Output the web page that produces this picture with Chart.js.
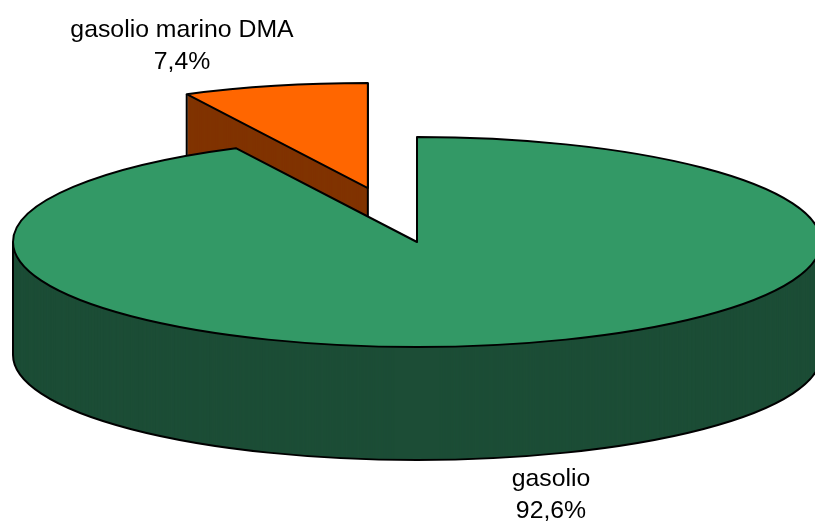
<!DOCTYPE html>
<html>
<head>
<meta charset="utf-8">
<title>gasolio</title>
<script src="https://cdn.jsdelivr.net/npm/chart.js@4/dist/chart.umd.js"></script>
<style>
  html, body { margin: 0; padding: 0; background: #fff; }
  #box { width: 815px; height: 524px; }
</style>
</head>
<body>
<div id="box"><canvas id="pie"></canvas></div>
<script>
const labels = ["gasolio", "gasolio marino DMA"];
const shares = [92.6, 7.4];
const topColors = ["#339966", "#FF6600"];
const wallColors = ["#1C4D36", "#803300"];

// tilted disc: the round pie is squashed into this ellipse and extruded down
const CENTER_X = 417, CENTER_Y = 242;
const RADIUS_X = 404, RADIUS_Y = 105;
const DEPTH = 113;
const EXPLODE = 0.53; // pulled out slice, as a fraction of the radius

const FONT = '24.8px "Liberation Sans", Arial, sans-serif';
const labelSpots = [
  { x: 551, y: 479 },
  { x: 182, y: 30 },
];

// where the slice centre ends up once squashed and pulled out
function sliceOrigin(arc) {
  const mid = (arc.startAngle + arc.endAngle) / 2;
  const pull = (arc.options.offset || 0) / 4 / arc.outerRadius;
  return {
    x: CENTER_X + Math.cos(mid) * pull * RADIUS_X,
    y: CENTER_Y + Math.sin(mid) * pull * RADIUS_Y,
  };
}

// traces one slice through the element's own angles, closed to the centre
function traceSlice(ctx, arc, drop) {
  const o = sliceOrigin(arc);
  ctx.beginPath();
  ctx.ellipse(o.x, o.y + drop, RADIUS_X, RADIUS_Y, 0, arc.startAngle, arc.endAngle);
  ctx.lineTo(o.x, o.y + drop);
  ctx.closePath();
}

// vertical edges of the wall: the rim's far left and right, plus cut face corners
function wallEdges(ctx, arc, index) {
  const o = sliceOrigin(arc);
  const angles = [];
  [Math.PI, 2 * Math.PI].forEach(function (a) {
    [a, a - 2 * Math.PI].forEach(function (t) {
      if (t >= arc.startAngle && t <= arc.endAngle) angles.push(t);
    });
  });
  if (index === 1) angles.push(arc.startAngle, arc.endAngle);
  ctx.beginPath();
  angles.forEach(function (t) {
    const x = o.x + Math.cos(t) * RADIUS_X;
    const y = o.y + Math.sin(t) * RADIUS_Y;
    ctx.moveTo(x, y);
    ctx.lineTo(x, y + DEPTH);
  });
  if (index === 1) {
    ctx.moveTo(o.x, o.y);
    ctx.lineTo(o.x, o.y + DEPTH);
  }
  ctx.stroke();
}

function drawSlice(ctx, arc, index) {
  const o = sliceOrigin(arc);

  // wall, stacked one pixel at a time
  ctx.fillStyle = wallColors[index];
  for (let d = DEPTH; d >= 0; d--) {
    traceSlice(ctx, arc, d);
    ctx.fill();
  }
  ctx.strokeStyle = "#000";
  ctx.lineWidth = 2;

  // only the big slice shows its lower rim, and only the front half of it
  if (index === 0) {
    ctx.beginPath();
    ctx.ellipse(o.x, o.y + DEPTH, RADIUS_X, RADIUS_Y, 0, 0, Math.PI);
    ctx.stroke();
  }
  wallEdges(ctx, arc, index);

  // top face
  traceSlice(ctx, arc, 0);
  ctx.fillStyle = topColors[index];
  ctx.fill();
  ctx.stroke();
}

const extrudedPie = {
  id: "extrudedPie",
  beforeDatasetsDraw(chart) {
    const ctx = chart.ctx;
    const arcs = chart.getDatasetMeta(0).data;
    ctx.save();
    ctx.lineJoin = "round";
    // the pulled out slice sits behind the big one
    drawSlice(ctx, arcs[1], 1);
    drawSlice(ctx, arcs[0], 0);
    ctx.restore();
    return false;
  },
  afterDraw(chart) {
    const ctx = chart.ctx;
    ctx.save();
    ctx.font = FONT;
    ctx.fillStyle = "#000";
    ctx.textAlign = "center";
    ctx.textBaseline = "middle";
    labels.forEach(function (name, i) {
      const pct = shares[i].toFixed(1).replace(".", ",") + "%";
      ctx.fillText(name, labelSpots[i].x, labelSpots[i].y);
      ctx.fillText(pct, labelSpots[i].x, labelSpots[i].y + 32);
    });
    ctx.restore();
  },
};

// Chart.js applies a quarter of the offset when drawing and also takes it off
// the radius, so this solves for the offset that gives EXPLODE * radius
const BOX_HEIGHT = 524;
const radius = (BOX_HEIGHT - 1) / (2 + 4 * EXPLODE);

new Chart(document.getElementById("pie"), {
  type: "pie",
  data: {
    labels: labels,
    datasets: [{
      data: shares,
      backgroundColor: topColors,
      borderWidth: 0,
      offset: [0, 4 * EXPLODE * radius],
    }],
  },
  options: {
    responsive: true,
    maintainAspectRatio: false,
    animation: false,
    plugins: {
      legend: { display: false },
      tooltip: { enabled: false },
    },
  },
  plugins: [extrudedPie],
});
</script>
</body>
</html>
